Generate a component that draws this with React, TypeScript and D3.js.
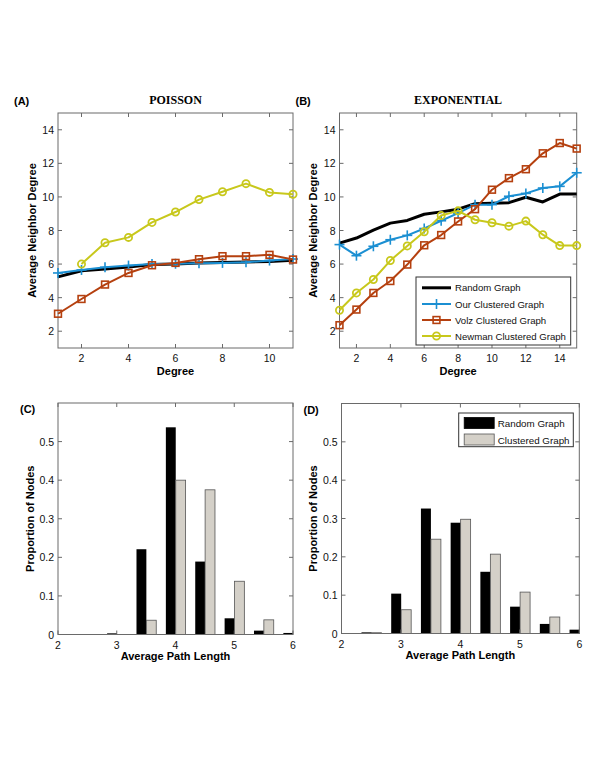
import React from "react";
import * as d3 from "d3";

// ---------- Data ----------
const degreeA = [1, 2, 3, 4, 5, 6, 7, 8, 9, 10, 11];
const randomA = [5.24, 5.6, 5.71, 5.83, 5.97, 6.0, 6.07, 6.09, 6.13, 6.15, 6.23];
const oursA = [5.47, 5.65, 5.81, 5.91, 6.01, 6.02, 6.05, 6.07, 6.11, 6.21, 6.3];
const volzA = [3.04, 3.92, 4.78, 5.47, 5.93, 6.07, 6.29, 6.47, 6.47, 6.55, 6.27];
const newmanA: (number | null)[] = [null, 6.0, 7.27, 7.59, 8.48, 9.1, 9.84, 10.31, 10.79, 10.27, 10.16];

const degreeB = [1, 2, 3, 4, 5, 6, 7, 8, 9, 10, 11, 12, 13, 14, 15];
const randomB = [7.25, 7.55, 8.02, 8.44, 8.6, 8.97, 9.11, 9.27, 9.6, 9.62, 9.66, 9.98, 9.7, 10.17, 10.17];
const oursB = [7.16, 6.5, 7.06, 7.45, 7.71, 8.12, 8.58, 9.03, 9.54, 9.54, 10.04, 10.21, 10.53, 10.63, 11.44];
const volzB = [2.36, 3.29, 4.28, 4.99, 5.97, 7.12, 7.73, 8.54, 9.27, 10.43, 11.12, 11.65, 12.6, 13.21, 12.88];
const newmanB = [3.25, 4.28, 5.08, 6.21, 7.08, 7.92, 8.89, 9.17, 8.64, 8.46, 8.26, 8.56, 7.75, 7.1, 7.1];

const binCenters = [2, 2.5, 3, 3.5, 4, 4.5, 5, 5.5, 6];
const randomC = [0, 0, 0.003, 0.221, 0.537, 0.189, 0.042, 0.01, 0.004];
const clusterC = [0, 0, 0, 0.037, 0.4, 0.375, 0.138, 0.038, 0.008];
const randomD = [0, 0.003, 0.104, 0.326, 0.289, 0.161, 0.07, 0.025, 0.01];
const clusterD = [0, 0.002, 0.062, 0.246, 0.298, 0.207, 0.108, 0.043, 0.017];

const lineSeriesNames = ["Random Graph", "Our Clustered Graph", "Volz Clustered Graph", "Newman Clustered Graph"];
const barSeriesNames = ["Random Graph", "Clustered Graph"];

const ticksDegreeY = [2, 4, 6, 8, 10, 12, 14];
const ticksDegreeXA = [2, 4, 6, 8, 10];
const ticksDegreeXB = [2, 4, 6, 8, 10, 12, 14];
const ticksPathX = [2, 3, 4, 5, 6];
const ticksPropY = [0, 0.1, 0.2, 0.3, 0.4, 0.5];

// ---------- Styles ----------
const C_BLACK = "#000";
const C_BLUE = "#1b8fd2";
const C_RED = "#b5400f";
const C_YEL = "#c8c81c";
const C_GRAYBAR = "#d4d0c8";
const AXIS = "#6a6a6a";
const SANS = "Liberation Sans, Arial, Helvetica, sans-serif";
const SERIF = "Liberation Serif, Times New Roman, serif";

type Mk = "none" | "plus" | "square" | "circle";

function Marker({ x, y, type, color }: { x: number; y: number; type: Mk; color: string }) {
  if (type === "plus")
    return (
      <g stroke={color} strokeWidth={1.6}>
        <line x1={x - 5} x2={x + 5} y1={y} y2={y} />
        <line x1={x} x2={x} y1={y - 5} y2={y + 5} />
      </g>
    );
  if (type === "square")
    return <rect x={x - 3.4} y={y - 3.4} width={6.8} height={6.8} fill="none" stroke={color} strokeWidth={1.6} />;
  if (type === "circle") return <circle cx={x} cy={y} r={3.6} fill="none" stroke={color} strokeWidth={1.8} />;
  return null;
}

function Frame({
  x0, x1, y0, y1, xs, ys, xticks, yticks, yfmt,
}: {
  x0: number; x1: number; y0: number; y1: number;
  xs: d3.ScaleLinear<number, number>; ys: d3.ScaleLinear<number, number>;
  xticks: number[]; yticks: number[]; yfmt?: (v: number) => string;
}) {
  const tl = 4;
  return (
    <g>
      <rect x={x0} y={y0} width={x1 - x0} height={y1 - y0} fill="none" stroke={AXIS} strokeWidth={1} />
      {xticks.map((t) => (
        <g key={"x" + t}>
          <line x1={xs(t)} x2={xs(t)} y1={y1} y2={y1 - tl} stroke={AXIS} />
          <line x1={xs(t)} x2={xs(t)} y1={y0} y2={y0 + tl} stroke={AXIS} />
          <text x={xs(t)} y={y1 + 14} textAnchor="middle" fontFamily={SANS} fontSize={10.5} fill="#111">
            {t}
          </text>
        </g>
      ))}
      {yticks.map((t) => (
        <g key={"y" + t}>
          <line x1={x0} x2={x0 + tl} y1={ys(t)} y2={ys(t)} stroke={AXIS} />
          <line x1={x1} x2={x1 - tl} y1={ys(t)} y2={ys(t)} stroke={AXIS} />
          <text x={x0 - 4} y={ys(t) + 4} textAnchor="end" fontFamily={SANS} fontSize={10.5} fill="#111">
            {yfmt ? yfmt(t) : t}
          </text>
        </g>
      ))}
    </g>
  );
}

function LinePanel({
  x0, x1, y0, y1, xDomain, degrees, series, xticks, label, title, legend, ylabX,
}: {
  x0: number; x1: number; y0: number; y1: number; xDomain: [number, number];
  degrees: number[]; series: (number | null)[][]; xticks: number[]; label: string; title: string;
  legend?: { x0: number; x1: number; y0: number; y1: number; rows: number[] };
  ylabX: number;
}) {
  const xs = d3.scaleLinear(xDomain, [x0, x1]);
  const ys = d3.scaleLinear([1, 15], [y1, y0]);
  const colors = [C_BLACK, C_BLUE, C_RED, C_YEL];
  const marks: Mk[] = ["none", "plus", "square", "circle"];
  const widths = [3, 2, 2, 2];
  const line = d3
    .line<[number, number | null]>()
    .defined((d) => d[1] !== null)
    .x((d) => xs(d[0]))
    .y((d) => ys(d[1] as number));
  const xm = (x0 + x1) / 2;
  return (
    <g>
      <Frame x0={x0} x1={x1} y0={y0} y1={y1} xs={xs} ys={ys} xticks={xticks} yticks={ticksDegreeY} />
      {series.map((s, i) => {
        const pts = degrees.map((d, j) => [d, s[j]] as [number, number | null]);
        return (
          <g key={i}>
            <path d={line(pts) || ""} fill="none" stroke={colors[i]} strokeWidth={widths[i]} strokeLinejoin="round" />
            {pts
              .filter((p) => p[1] !== null)
              .map((p, j) => (
                <Marker key={j} x={xs(p[0])} y={ys(p[1] as number)} type={marks[i]} color={colors[i]} />
              ))}
          </g>
        );
      })}
      <text x={x0 - 44} y={y0 - 8} fontFamily={SANS} fontWeight="bold" fontSize={11}>
        {label}
      </text>
      <text x={xm} y={y0 - 9} textAnchor="middle" fontFamily={SERIF} fontWeight="bold" fontSize={12}>
        {title}
      </text>
      <text x={xm} y={y1 + 27} textAnchor="middle" fontFamily={SANS} fontWeight="bold" fontSize={11}>
        Degree
      </text>
      <text
        transform={`translate(${ylabX + 4},${(y0 + y1) / 2}) rotate(-90)`}
        textAnchor="middle"
        fontFamily={SANS}
        fontWeight="bold"
        fontSize={11}
      >
        Average Neighbor Degree
      </text>
      {legend && (
        <g>
          <rect
            x={legend.x0}
            y={legend.y0}
            width={legend.x1 - legend.x0}
            height={legend.y1 - legend.y0}
            fill="#fff"
            stroke="#333"
            strokeWidth={1}
          />
          {lineSeriesNames.map((n, i) => {
            const yy = legend.rows[i];
            const lx0 = legend.x0 + 6;
            const lx1 = legend.x0 + 35;
            return (
              <g key={n}>
                <line x1={lx0} x2={lx1} y1={yy} y2={yy} stroke={colors[i]} strokeWidth={widths[i]} />
                <Marker x={(lx0 + lx1) / 2} y={yy} type={marks[i]} color={colors[i]} />
                <text x={lx1 + 4} y={yy + 3.5} fontFamily={SANS} fontSize={9.6} fill="#111">
                  {n}
                </text>
              </g>
            );
          })}
        </g>
      )}
    </g>
  );
}

function HistPanel({
  id, x0, x1, y0, y1, rnd, cls, label, legend, ylabX,
}: {
  id: string; x0: number; x1: number; y0: number; y1: number; rnd: number[]; cls: number[]; label: string;
  legend?: { x0: number; x1: number; y0: number; y1: number };
  ylabX: number;
}) {
  const xs = d3.scaleLinear([2, 6], [x0, x1]);
  const ys = d3.scaleLinear([0, 0.6], [y1, y0]);
  const bw = 0.168;
  const off = 0.004;
  const xm = (x0 + x1) / 2;
  return (
    <g>
      <defs>
        <clipPath id={id}>
          <rect x={x0} y={y0} width={x1 - x0} height={y1 - y0} />
        </clipPath>
      </defs>
      <g clipPath={`url(#${id})`}>
        {binCenters.map((c, i) =>
          rnd[i] > 0 ? (
            <rect
              key={"r" + i}
              x={xs(c - bw + off)}
              y={ys(rnd[i])}
              width={xs(c + off) - xs(c - bw + off)}
              height={ys(0) - ys(rnd[i])}
              fill="#000"
            />
          ) : null
        )}
        {binCenters.map((c, i) =>
          cls[i] > 0 ? (
            <rect
              key={"c" + i}
              x={xs(c + off)}
              y={ys(cls[i])}
              width={xs(c + bw + off) - xs(c + off)}
              height={ys(0) - ys(cls[i])}
              fill={C_GRAYBAR}
              stroke="#555"
              strokeWidth={0.8}
            />
          ) : null
        )}
      </g>
      <Frame
        x0={x0}
        x1={x1}
        y0={y0}
        y1={y1}
        xs={xs}
        ys={ys}
        xticks={ticksPathX}
        yticks={ticksPropY}
        yfmt={(v) => (v === 0 ? "0" : v.toFixed(1))}
      />
      <text x={x0 - 38} y={y0 + 10} fontFamily={SANS} fontWeight="bold" fontSize={11}>
        {label}
      </text>
      <text x={xm} y={y1 + 25} textAnchor="middle" fontFamily={SANS} fontWeight="bold" fontSize={11}>
        Average Path Length
      </text>
      <text
        transform={`translate(${ylabX + 4},${(y0 + y1) / 2}) rotate(-90)`}
        textAnchor="middle"
        fontFamily={SANS}
        fontWeight="bold"
        fontSize={11}
      >
        Proportion of Nodes
      </text>
      {legend && (
        <g>
          <rect
            x={legend.x0}
            y={legend.y0}
            width={legend.x1 - legend.x0}
            height={legend.y1 - legend.y0}
            fill="#fff"
            stroke="#333"
            strokeWidth={1}
          />
          {barSeriesNames.map((n, i) => {
            const yy = legend.y0 + 10 + i * 16.5;
            return (
              <g key={n}>
                <rect
                  x={legend.x0 + 5.5}
                  y={yy - 5.5}
                  width={30}
                  height={11}
                  fill={i === 0 ? "#000" : C_GRAYBAR}
                  stroke={i === 0 ? "#000" : "#555"}
                  strokeWidth={0.8}
                />
                <text x={legend.x0 + 39} y={yy + 4} fontFamily={SANS} fontSize={9.8} fill="#111">
                  {n}
                </text>
              </g>
            );
          })}
        </g>
      )}
    </g>
  );
}

export default function App() {
  return (
    <svg
      width={600}
      height={776}
      style={{ position: "absolute", left: 0, top: 0, background: "#fff" }}
      xmlns="http://www.w3.org/2000/svg"
    >
      <rect x={0} y={0} width={600} height={776} fill="#fff" />
      <LinePanel
        x0={58}
        x1={293}
        y0={113}
        y1={348}
        xDomain={[1, 11]}
        degrees={degreeA}
        series={[randomA, oursA, volzA, newmanA]}
        xticks={ticksDegreeXA}
        label="(A)"
        title="POISSON"
        ylabX={32}
      />
      <LinePanel
        x0={339.5}
        x1={576.7}
        y0={113}
        y1={348}
        xDomain={[1, 15]}
        degrees={degreeB}
        series={[randomB, oursB, volzB, newmanB]}
        xticks={ticksDegreeXB}
        label="(B)"
        title="EXPONENTIAL"
        legend={{ x0: 416, x1: 570.7, y0: 277, y1: 345, rows: [287.8, 304, 320, 336] }}
        ylabX={313}
      />
      <HistPanel id="clipC" x0={58} x1={293} y0={403} y1={634.5} rnd={randomC} cls={clusterC} label="(C)" ylabX={30} />
      <HistPanel
        id="clipD"
        x0={341.5}
        x1={579.3}
        y0={403.5}
        y1={633.5}
        rnd={randomD}
        cls={clusterD}
        label="(D)"
        legend={{ x0: 458.7, x1: 573.3, y0: 413, y1: 446.7 }}
        ylabX={313}
      />
    </svg>
  );
}
